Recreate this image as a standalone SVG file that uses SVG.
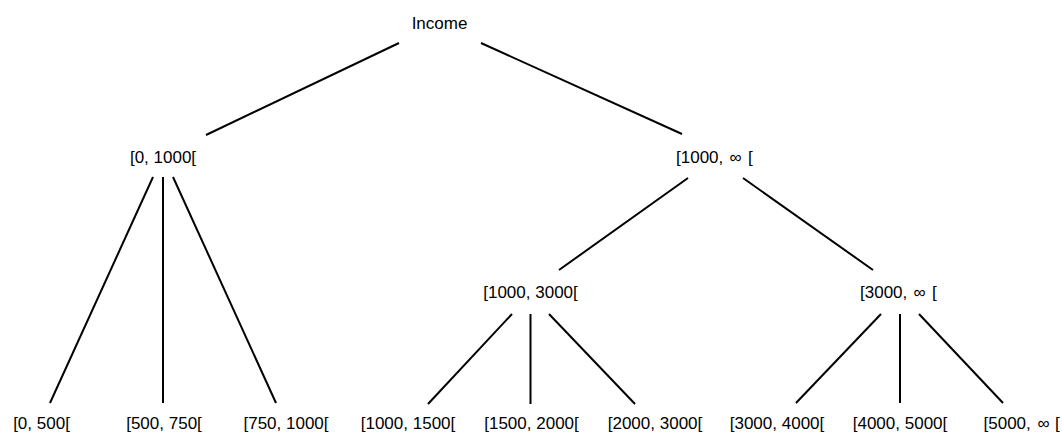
<svg xmlns="http://www.w3.org/2000/svg" width="1062" height="433" viewBox="0 0 1062 433">
<style>
text { font-family: "Liberation Sans", Arial, sans-serif; font-size: 17px; fill: #000; }
.c { text-anchor: middle; }
#edges line { stroke: #000; stroke-width: 2; stroke-linecap: butt; }
</style>
<rect width="1062" height="433" fill="#fff"/>
<g id="edges">
<line x1="399" y1="43" x2="206" y2="135"/>
<line x1="481" y1="43" x2="682" y2="134"/>
<line x1="153" y1="177" x2="50" y2="403"/>
<line x1="163" y1="177" x2="163" y2="403"/>
<line x1="173" y1="177" x2="276" y2="403"/>
<line x1="688" y1="178" x2="559" y2="270"/>
<line x1="743" y1="178" x2="873" y2="270"/>
<line x1="512" y1="314" x2="428" y2="404"/>
<line x1="530.5" y1="314" x2="530.5" y2="404"/>
<line x1="549" y1="314" x2="635" y2="404"/>
<line x1="881" y1="314" x2="796" y2="403"/>
<line x1="900" y1="314" x2="900" y2="403"/>
<line x1="919" y1="314" x2="1003" y2="403"/>
</g>
<g id="n-income"><text class="c" x="439.5" y="29">Income</text></g>
<g id="n-0-1000"><text class="c" x="163" y="163">[0, 1000[</text></g>
<g id="n-1000-inf"><text x="676" y="163">[1000,</text><text x="729.5" y="163">∞</text><text x="748" y="163">[</text></g>
<g id="n-1000-3000"><text class="c" x="530.5" y="298">[1000, 3000[</text></g>
<g id="n-3000-inf"><text x="860" y="298">[3000,</text><text x="913.5" y="298">∞</text><text x="932" y="298">[</text></g>
<g id="n-0-500"><text class="c" x="41.5" y="429">[0, 500[</text></g>
<g id="n-500-750"><text class="c" x="164" y="429">[500, 750[</text></g>
<g id="n-750-1000"><text class="c" x="286" y="429">[750, 1000[</text></g>
<g id="n-1000-1500"><text class="c" x="408" y="429">[1000, 1500[</text></g>
<g id="n-1500-2000"><text class="c" x="531.5" y="429">[1500, 2000[</text></g>
<g id="n-2000-3000"><text class="c" x="655" y="429">[2000, 3000[</text></g>
<g id="n-3000-4000"><text class="c" x="777" y="429">[3000, 4000[</text></g>
<g id="n-4000-5000"><text class="c" x="900" y="429">[4000, 5000[</text></g>
<g id="n-5000-inf"><text x="983.5" y="429">[5000,</text><text x="1037.5" y="429">∞</text><text x="1055" y="429">[</text></g>
</svg>
